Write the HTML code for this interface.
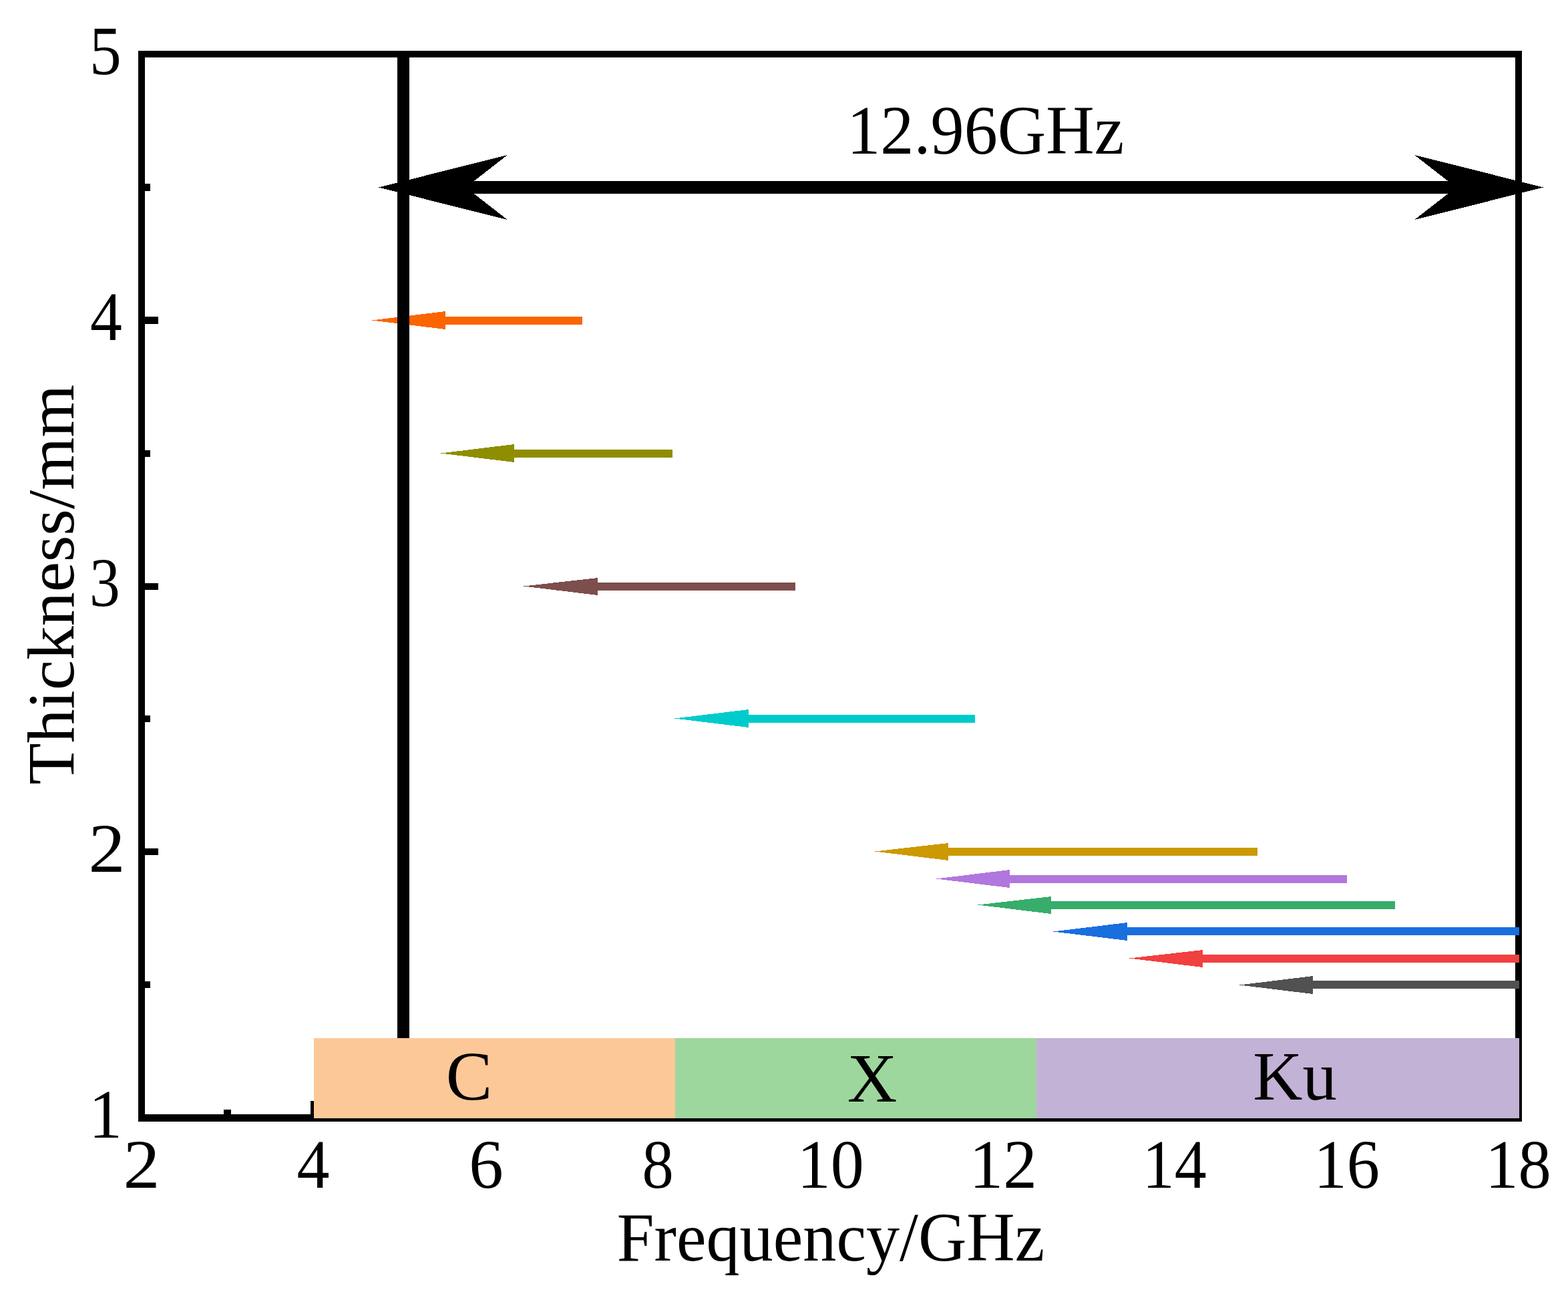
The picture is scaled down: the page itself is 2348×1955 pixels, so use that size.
<!DOCTYPE html>
<html lang="en"><head><meta charset="utf-8"><title>Thickness vs Frequency</title>
<style>
html,body{margin:0;padding:0;background:#fff;}
body{width:2348px;height:1955px;overflow:hidden;}
svg{display:block;}
text{font-family:'Liberation Serif', serif;fill:#000;}
</style></head><body>
<svg width="2348" height="1955" viewBox="0 0 2348 1955">
<rect x="0" y="0" width="2348" height="1955" fill="#fff"/>
<g shape-rendering="crispEdges" fill="#000">
<rect x="207" y="76" width="2072" height="10"/>
<rect x="207" y="1668" width="2072" height="11"/>
<rect x="207" y="76" width="10" height="1603"/>
<rect x="2269" y="76" width="10" height="1603"/>
<rect x="217" y="474" width="20" height="11"/>
<rect x="217" y="873" width="20" height="10"/>
<rect x="217" y="1270" width="20" height="10"/>
<rect x="217" y="275" width="8" height="11"/>
<rect x="217" y="674" width="8" height="10"/>
<rect x="217" y="1071" width="8" height="10"/>
<rect x="217" y="1469" width="8" height="10"/>
<rect x="335" y="1661" width="11" height="8"/>
<rect x="465" y="1648" width="10" height="21"/>
</g>
<g shape-rendering="crispEdges">
<path fill="#FB6501" d="M557.0 479.5 L667 466 L667 474 L872 474 L872 486 L667 486 L667 493 Z"/>
<path fill="#8E8E00" d="M660.0 678.5 L770 665 L770 673 L1007 673 L1007 685 L770 685 L770 692 Z"/>
<path fill="#7D4E4E" d="M784.0 877.5 L895 865 L895 872 L1191 872 L1191 884 L895 884 L895 891 Z"/>
<path fill="#00CBCC" d="M1010.0 1075.5 L1121 1062 L1121 1070 L1460 1070 L1460 1082 L1121 1082 L1121 1089 Z"/>
<path fill="#CC9900" d="M1310.0 1274.5 L1420 1262 L1420 1269 L1883 1269 L1883 1281 L1420 1281 L1420 1288 Z"/>
<path fill="#B177DE" d="M1402.0 1315.5 L1512 1302 L1512 1310 L2017 1310 L2017 1322 L1512 1322 L1512 1329 Z"/>
<path fill="#37AD6B" d="M1464.0 1354.5 L1574 1342 L1574 1349 L2089 1349 L2089 1361 L1574 1361 L1574 1368 Z"/>
<path fill="#1A6FDF" d="M1577.0 1394.5 L1688 1381 L1688 1388 L2275 1388 L2275 1400 L1688 1400 L1688 1408 Z"/>
<path fill="#F14040" d="M1691.0 1434.5 L1801 1422 L1801 1429 L2275 1429 L2275 1441 L1801 1441 L1801 1448 Z"/>
<path fill="#515151" d="M1856.0 1474.5 L1966 1461 L1966 1468 L2275 1468 L2275 1480 L1966 1480 L1966 1488 Z"/>
</g>
<g shape-rendering="crispEdges" fill="#000">
<rect x="595" y="81" width="18" height="1590"/>
<rect x="690" y="271" width="1500" height="19"/>
<path d="M566.8 280.5 L760 232 L697.5 280.5 L760 329 Z"/>
<path d="M2311.2 280.5 L2118 232 L2180.5 280.5 L2118 329 Z"/>
</g>
<g shape-rendering="crispEdges">
<rect x="470" y="1554" width="541" height="120" fill="#FCC898"/>
<rect x="1011" y="1554" width="541" height="120" fill="#9ED79E"/>
<rect x="1552" y="1554" width="723" height="120" fill="#C2B2D6"/>
</g>
<g id="xticks">
<text transform="translate(212 1778) scale(1.1 1.04)" text-anchor="middle" font-size="100">2</text>
<text transform="translate(468.95 1778) scale(0.98 1.04)" text-anchor="middle" font-size="100">4</text>
<text transform="translate(727.9 1778) scale(1.03 1.04)" text-anchor="middle" font-size="100">6</text>
<text transform="translate(985.15 1778) scale(0.945 1.04)" text-anchor="middle" font-size="100">8</text>
<text transform="translate(1243.8 1778) scale(1 1.04)" text-anchor="middle" font-size="100">10</text>
<text transform="translate(1502.35 1778) scale(1.015 1.04)" text-anchor="middle" font-size="100">12</text>
<text transform="translate(1758.7 1778) scale(0.96 1.04)" text-anchor="middle" font-size="100">14</text>
<text transform="translate(2016.85 1778) scale(0.985 1.04)" text-anchor="middle" font-size="100">16</text>
<text transform="translate(2273.4 1778) scale(0.985 1.04)" text-anchor="middle" font-size="100">18</text>
</g>
<g id="yticks">
<text transform="translate(181.7 111) scale(0.955 1.04)" text-anchor="end" font-size="100">5</text>
<text transform="translate(182.9 509) scale(0.957 1.04)" text-anchor="end" font-size="100">4</text>
<text transform="translate(179.8 907) scale(0.915 1.04)" text-anchor="end" font-size="100">3</text>
<text transform="translate(187.5 1305) scale(1.1 1.04)" text-anchor="end" font-size="100">2</text>
<text transform="translate(183 1703) scale(1 1.04)" text-anchor="end" font-size="100">1</text>
</g>
<g id="labels">
<text transform="translate(1244 1887) scale(1.003 1.035)" text-anchor="middle" font-size="100">Frequency/GHz</text>
<text transform="translate(110 875) rotate(-90) scale(1.017 1)" text-anchor="middle" font-size="100">Thickness/mm</text>
<text transform="translate(1475.7 229.7) scale(1.003 1.04)" text-anchor="middle" font-size="100">12.96GHz</text>
<text transform="translate(702.5 1645.8) scale(1.04 1.045)" text-anchor="middle" font-size="100">C</text>
<text transform="translate(1306 1649) scale(1.034 1.045)" text-anchor="middle" font-size="100">X</text>
<text transform="translate(1939 1646) scale(1.027 1.045)" text-anchor="middle" font-size="100">Ku</text>
</g>
</svg>
</body></html>
